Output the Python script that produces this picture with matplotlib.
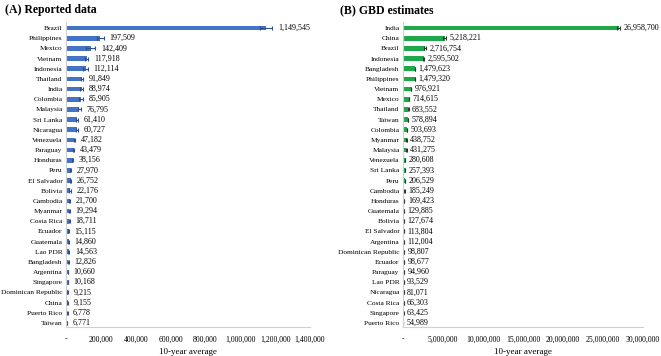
import matplotlib
matplotlib.use("Agg")
import matplotlib.pyplot as plt
from matplotlib.ticker import FuncFormatter

# (A) reported data, 10-year average
rep_countries = ["Brazil", "Philippines", "Mexico", "Vietnam", "Indonesia", "Thailand",
                 "India", "Colombia", "Malaysia", "Sri Lanka", "Nicaragua", "Venezuela",
                 "Paraguay", "Honduras", "Peru", "El Salvador", "Bolivia", "Cambodia",
                 "Myanmar", "Costa Rica", "Ecuador", "Guatemala", "Lao PDR", "Bangladesh",
                 "Argentina", "Singapore", "Dominican Republic", "China", "Puerto Rico", "Taiwan"]
rep_values = [1149545, 197509, 142409, 117918, 112114, 91849, 88974, 85905, 76795, 61410,
              60727, 47182, 43479, 38156, 27970, 26752, 22176, 21700, 19294, 18711,
              15115, 14860, 14563, 12826, 10660, 10168, 9215, 9155, 6778, 6771]
rep_err = [35000, 20000, 26000, 10000, 14000, 8000, 10000, 12000, 8000, 5000,
           6000, 4000, 5000, 3000, 2500, 2500, 4000, 2500, 3000, 2500,
           2000, 3000, 5000, 4000, 1500, 1500, 1500, 1500, 2000, 1000]

# (B) GBD estimates, 10-year average
gbd_countries = ["India", "China", "Brazil", "Indonesia", "Bangladesh", "Philippines",
                 "Vietnam", "Mexico", "Thailand", "Taiwan", "Colombia", "Myanmar",
                 "Malaysia", "Venezuela", "Sri Lanka", "Peru", "Cambodia", "Honduras",
                 "Guatemala", "Bolivia", "El Salvador", "Argentina", "Dominican Republic",
                 "Ecuador", "Paraguay", "Lao PDR", "Nicaragua", "Costa Rica", "Singapore",
                 "Puerto Rico"]
gbd_values = [26958700, 5218221, 2716754, 2595502, 1479623, 1479320, 976921, 714615,
              683552, 578894, 503693, 438752, 431275, 280608, 257393, 206529, 185249,
              169423, 129885, 127674, 113804, 112004, 98807, 98677, 94960, 93529,
              81071, 66303, 63425, 54989]
gbd_err = [200000, 200000, 120000, 40000, 30000, 30000, 20000, 15000, 15000, 12000,
           12000, 10000, 10000, 8000, 8000, 6000, 6000, 5000, 4000, 4000,
           4000, 4000, 3000, 3000, 3000, 3000, 3000, 2000, 2000, 2000]

plt.rcParams["font.family"] = ["Liberation Serif", "DejaVu Serif"]

fig = plt.figure(figsize=(6.61, 3.56), dpi=100)
ax1 = fig.add_axes([66 / 661, 1 - 327 / 356, 244 / 661, 305 / 356])
ax2 = fig.add_axes([403 / 661, 1 - 327 / 356, 240 / 661, 305 / 356])


def fmt(v, pos):
    if v == 0:
        return "-"
    return f"{int(v):,}"


def draw(ax, names, vals, errs, color, ecolor, xmax, step, gap):
    y = list(range(len(names)))
    ax.barh(y, vals, height=0.45, color=color, xerr=errs,
            error_kw=dict(ecolor=ecolor, elinewidth=0.8, capsize=1.5, capthick=0.8))
    for yi, v, e in zip(y, vals, errs):
        ax.annotate(f"{v:,}", (v + e, yi), xytext=(gap, 0), textcoords="offset points",
                    va="center", ha="left", fontsize=5.8)
    ax.set_yticks(y)
    ax.set_yticklabels(names, fontsize=5.3)
    ax.set_ylim(len(names) - 0.6, -0.6)
    ax.set_xlim(0, xmax)
    ax.set_xticks(range(0, xmax + 1, step))
    ax.xaxis.set_major_formatter(FuncFormatter(fmt))
    ax.tick_params(axis="x", labelsize=5.6, length=0, pad=6)
    ax.tick_params(axis="y", length=0, pad=2.5)
    for s in ["top", "right"]:
        ax.spines[s].set_visible(False)
    ax.spines["left"].set_color("#d0d0d0")
    ax.spines["bottom"].set_color("#d0d0d0")
    ax.spines["left"].set_linewidth(0.8)
    ax.spines["bottom"].set_linewidth(0.8)
    ax.set_xlabel("10-year average", fontsize=6.5, labelpad=3)


draw(ax1, rep_countries, rep_values, rep_err, "#4472C4", "#2F4F8F", 1400000, 200000, 4)
draw(ax2, gbd_countries, gbd_values, gbd_err, "#1EA84A", "#333333", 30000000, 5000000, 2.5)

fig.text(5 / 661, 1 - 13 / 356, "(A) Reported data", fontsize=8.5, fontweight="bold")
fig.text(340 / 661, 1 - 13 / 356, "(B) GBD estimates", fontsize=8.5, fontweight="bold")

fig.savefig("out.png", dpi=100)
